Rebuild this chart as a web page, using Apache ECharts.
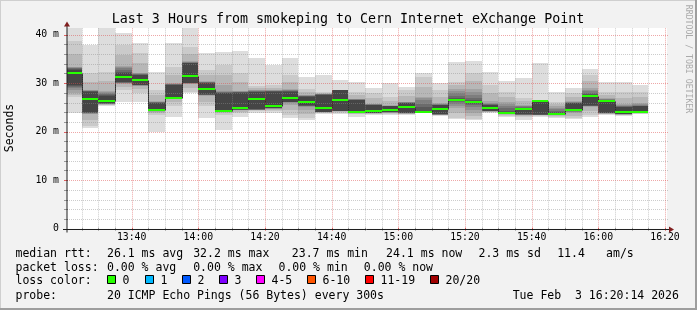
<!DOCTYPE html>
<html><head><meta charset="utf-8">
<script src="https://cdn.jsdelivr.net/npm/echarts@6/dist/echarts.min.js"></script>
<style>html,body{margin:0;padding:0;background:#f2f2f2}#c{width:697px;height:310px}</style>
</head><body><div id="c"></div>
<script>
// ---------------- data ----------------
const titleText = 'Last 3 Hours from smokeping to Cern Internet eXchange Point';
const yAxisName = 'Seconds';
const creditText = 'RRDTOOL / TOBI OETIKER';
// time in minutes after 13:00
const viewStart = 20.6, viewEnd = 200.6;
const stepMin = 5;
const colStart = [20,25,30,35,40,45,50,55,60,65,70,75,80,85,90,95,100,105,110,115,120,125,130,135,140,145,150,155,160,165,170,175,180,185,190];
const medians = [32.2,26.7,26.4,31.3,30.7,24.5,27.0,31.5,28.9,24.3,24.9,26.7,25.4,27.0,26.1,24.9,26.5,24.1,24.3,24.5,25.0,24.1,24.6,26.5,26.1,24.8,23.9,24.6,26.3,23.7,24.5,27.4,26.4,24.1,24.1];
// 20 sorted ping rtts (ms) per 5-minute step
const pings = [
 [23.9,27.2,27.6,28.0,28.6,29.0,29.2,29.4,29.6,32.1,32.3,32.8,33.0,33.1,33.2,33.3,33.4,36.0,38.6,41.3],
 [20.7,21.2,22.5,23.6,23.7,23.8,23.85,23.9,24.0,26.6,26.8,28.2,28.3,28.35,28.4,28.5,28.6,30.3,32.1,37.9],
 [25.3,25.5,25.6,25.7,25.75,25.8,25.8,25.85,25.9,26.3,26.5,27.3,27.5,27.7,28.0,28.2,28.4,30.4,32.4,41.5],
 [26.2,28.6,29.3,29.9,30.0,30.05,30.1,30.15,30.2,31.2,31.4,32.0,32.4,32.8,33.1,33.4,33.6,35.8,37.9,40.3],
 [26.2,27.9,28.8,29.4,29.5,29.55,29.6,29.65,29.7,30.6,30.8,31.6,31.7,31.8,31.9,32.0,32.2,34.2,36.2,38.2],
 [20.0,23.4,23.8,24.1,24.2,24.25,24.3,24.35,24.4,24.45,24.55,25.9,26.0,26.05,26.1,26.2,26.3,27.5,28.6,32.4],
 [23.1,25.2,26.1,26.7,26.8,26.85,26.9,26.92,26.95,26.98,27.02,29.6,29.7,29.75,29.8,29.9,30.0,31.7,33.4,38.2],
 [28.0,28.2,29.0,29.8,29.9,29.95,30.0,30.05,30.1,31.4,31.6,34.1,34.2,34.25,34.3,34.4,34.5,36.0,37.5,41.5],
 [22.8,25.2,26.2,27.4,27.5,27.55,27.6,27.65,27.7,28.8,29.0,30.0,30.1,30.15,30.2,30.3,30.5,31.6,32.7,36.2],
 [20.4,23.4,23.8,24.0,24.05,24.1,24.12,24.15,24.2,24.25,24.35,27.9,28.0,28.1,28.2,28.3,29.6,31.7,33.8,36.5],
 [23.1,23.8,24.1,24.4,24.45,24.5,24.52,24.55,24.6,24.85,24.95,28.0,28.1,28.15,28.2,28.3,28.4,30.2,32.1,36.6],
 [23.8,24.2,24.4,24.45,24.5,24.52,24.55,24.58,24.6,26.6,26.8,28.2,28.25,28.3,28.4,28.5,28.6,29.0,29.4,35.1],
 [23.8,24.2,24.5,24.7,24.75,24.8,24.82,24.85,24.9,25.3,25.5,28.2,28.3,28.35,28.4,28.5,28.6,29.1,29.6,33.8],
 [22.8,23.5,24.5,25.5,26.0,26.05,26.1,26.15,26.2,26.9,27.1,28.2,28.3,28.4,28.5,28.6,28.8,30.2,31.7,35.1],
 [22.4,22.8,23.6,24.4,25.0,25.2,25.3,25.4,25.5,26.0,26.2,27.2,27.3,27.35,27.4,27.5,27.6,28.2,28.9,31.3],
 [23.6,23.8,23.95,24.0,24.02,24.05,24.07,24.08,24.1,24.8,25.0,27.6,27.65,27.7,27.75,27.8,27.85,28.0,28.2,31.7],
 [23.6,23.9,24.1,24.2,24.22,24.25,24.27,24.28,24.3,26.4,26.6,28.5,28.5,28.52,28.54,28.56,28.58,28.6,28.6,30.7],
 [23.1,23.6,23.75,23.8,23.82,23.84,23.86,23.88,23.9,24.0,24.2,26.5,26.55,26.6,26.65,26.7,26.8,27.5,28.2,30.3],
 [23.4,23.6,23.7,23.8,23.82,23.84,23.86,23.88,23.9,24.25,24.35,25.5,25.55,25.6,25.65,25.7,25.8,26.9,27.9,29.0],
 [23.5,23.7,23.8,23.9,23.95,24.0,24.03,24.06,24.1,24.45,24.55,25.2,25.25,25.3,25.35,25.4,25.5,26.4,27.2,30.0],
 [23.4,23.6,23.7,23.75,23.78,23.8,23.82,23.85,23.9,24.95,25.05,25.9,25.95,26.0,26.05,26.1,26.2,27.4,28.6,29.3],
 [23.8,23.85,23.9,23.95,23.97,23.98,24.0,24.02,24.05,24.08,24.12,24.3,25.0,25.8,26.5,27.0,27.2,29.3,31.3,32.2],
 [23.2,23.35,23.4,23.45,23.5,23.52,23.55,23.58,23.6,24.55,24.65,25.5,25.55,25.6,25.7,25.8,25.9,27.2,28.6,30.1],
 [22.6,22.8,23.8,24.8,25.4,25.8,26.1,26.3,26.4,26.45,26.55,26.7,27.0,27.4,27.9,28.4,28.8,29.6,30.3,34.4],
 [22.4,22.6,23.2,23.8,24.4,25.0,25.5,25.8,25.95,26.05,26.15,26.3,26.6,27.0,27.5,28.1,28.8,30.4,32.0,34.6],
 [23.8,24.0,24.1,24.15,24.2,24.22,24.25,24.28,24.3,24.75,24.85,25.5,25.6,25.7,25.8,26.0,26.4,28.0,29.6,32.4],
 [23.1,23.3,23.5,23.7,23.75,23.8,23.82,23.85,23.87,23.88,23.92,24.0,24.3,24.8,25.3,25.8,26.2,27.2,28.2,30.5],
 [22.4,23.0,23.3,23.4,23.45,23.5,23.52,23.55,23.6,24.55,24.65,24.8,24.9,25.0,25.2,25.4,25.6,26.3,26.9,31.0],
 [23.1,23.3,23.4,23.42,23.45,23.48,23.5,23.52,23.55,26.25,26.35,26.4,26.42,26.44,26.46,26.48,26.5,26.5,26.5,34.2],
 [22.8,23.0,23.2,23.4,23.5,23.55,23.6,23.62,23.65,23.68,23.72,23.8,24.0,24.3,24.6,24.9,25.2,25.7,26.2,28.2],
 [22.6,22.8,23.3,23.8,24.0,24.1,24.2,24.3,24.4,24.45,24.55,25.9,25.95,26.0,26.1,26.2,26.3,27.1,27.9,29.0],
 [23.1,23.4,24.2,25.0,25.2,25.3,25.35,25.4,25.5,27.35,27.45,27.6,27.8,28.0,28.3,28.6,29.0,30.4,31.7,32.9],
 [23.4,23.6,23.7,23.75,23.78,23.8,23.82,23.85,23.9,26.35,26.45,26.5,26.55,26.6,26.7,26.8,26.9,27.5,28.2,30.3],
 [23.3,23.45,23.5,23.52,23.55,23.58,23.6,23.62,23.65,24.05,24.15,25.0,25.1,25.2,25.3,25.5,25.8,27.0,28.2,30.3],
 [23.6,23.75,23.8,23.85,23.87,23.88,23.89,23.9,23.9,24.05,24.15,25.2,25.3,25.4,25.5,25.7,26.0,27.1,28.2,29.6]
];
const xMajorTicks = [40,60,80,100,120,140,160,180,200];
const xTickLabels = ['13:40','14:00','14:20','14:40','15:00','15:20','15:40','16:00','16:20'];
const xMinorTicks = [25,30,35,45,50,55,65,70,75,85,90,95,105,110,115,125,130,135,145,150,155,165,170,175,185,190,195];
const yMax = 41.4;
const yMajorTicks = [10,20,30,40];
const yLabelValues = [0,10,20,30,40];
const yTickLabels = ['0','10 m','20 m','30 m','40 m'];
const yMinorTicks = [2,4,6,8,12,14,16,18,22,24,26,28,32,34,36,38];
const rttLabel = 'median rtt:';
const rttStats = ['26.1 ms avg','32.2 ms max','23.7 ms min','24.1 ms now','2.3 ms sd','11.4','am/s'];
const lossLabel = 'packet loss:';
const lossStats = ['0.00 % avg','0.00 % max','0.00 % min','0.00 % now'];
const lossColorLabel = 'loss color:';
const lossNames = ['0','1','2','3','4-5','6-10','11-19','20/20'];
const lossColors = ['#26ff00','#00b8ff','#0059ff','#7e00ff','#ff00ff','#ff5500','#ff0000','#a00000'];
const probeLabel = 'probe:';
const probeText = '20 ICMP Echo Pings (56 Bytes) every 300s';
const dateText = 'Tue Feb  3 16:20:14 2026';

// ---------------- style / layout ----------------
const FONT = "'DejaVu Sans Mono', monospace";
const smokeGrays = ['#dddddd','#cacaca','#b7b7b7','#a4a4a4','#919191','#7e7e7e','#6b6b6b','#585858','#454545'];
const GRID_MINOR = 'rgba(143,143,143,0.45)';
const GRID_MAJOR = 'rgba(222,79,79,0.5)';
const TICK_MINOR = 'rgba(143,143,143,0.9)';
const TICK_MAJOR = 'rgba(222,79,79,0.9)';
const ARROW = '#801f1f';
const AXIS = '#1f1f1f';
const G = {left: 67, right: 30, top: 27.9, bottom: 81.3};

const chart = echarts.init(document.getElementById('c'), null, {renderer: 'canvas'});

const smokeData = colStart.map((s, k) => [s, s + stepMin].concat(pings[k]));
const medData = colStart.map((s, k) => [s, s + stepMin, medians[k], k > 0 ? medians[k - 1] : medians[k]]);
const gridData = []
  .concat(yMinorTicks.map(v => [v, 0, 0]))
  .concat(yMajorTicks.map(v => [v, 0, 1]))
  .concat(xMinorTicks.map(v => [v, 1, 0]))
  .concat(xMajorTicks.map(v => [v, 1, 1]));

function renderSmoke(params, api) {
  const s = api.value(0), e = api.value(1);
  const xa = Math.round(api.coord([s, 0])[0]);
  const xb = Math.round(api.coord([e, 0])[0]);
  const children = [];
  for (let i = 0; i < 9; i++) {
    const lo = api.value(2 + i), hi = api.value(2 + 19 - i);
    const yt = Math.round(api.coord([s, hi])[1]);
    const yb = Math.round(api.coord([s, lo])[1]);
    children.push({type: 'rect', shape: {x: xa, y: yt, width: xb - xa, height: Math.max(1, yb - yt)},
      style: {fill: smokeGrays[i]}});
  }
  return {type: 'group', children};
}
function renderConnector(params, api) {
  const s = api.value(0);
  const xa = Math.round(api.coord([s, 0])[0]) + 0.5;
  const y1 = Math.round(api.coord([s, api.value(2)])[1]) + 0.5;
  const y0 = Math.round(api.coord([s, api.value(3)])[1]) + 0.5;
  return {type: 'line', shape: {x1: xa, y1: y0, x2: xa, y2: y1}, style: {stroke: '#202020', lineWidth: 1}};
}
function renderMedian(params, api) {
  const s = api.value(0), e = api.value(1);
  const xa = Math.round(api.coord([s, 0])[0]);
  const xb = Math.round(api.coord([e, 0])[0]);
  const y = Math.round(api.coord([s, api.value(2)])[1]);
  return {type: 'rect', shape: {x: xa, y: y - 1, width: xb - xa, height: 2}, style: {fill: lossColors[0]}};
}
function renderGrid(params, api) {
  const v = api.value(0), orient = api.value(1), major = api.value(2);
  const cs = params.coordSys;
  const col = major ? GRID_MAJOR : GRID_MINOR;
  const tcol = major ? TICK_MAJOR : TICK_MINOR;
  if (orient === 0) {
    const y = Math.round(api.coord([viewStart, v])[1]) + 0.5;
    return {type: 'group', children: [
      {type: 'line', shape: {x1: cs.x, y1: y, x2: cs.x + cs.width + 2, y2: y}, style: {stroke: col, lineWidth: 1, lineDash: [1, 1]}},
      {type: 'line', shape: {x1: cs.x - 3, y1: y, x2: cs.x + 1, y2: y}, style: {stroke: tcol, lineWidth: 1}}
    ]};
  } else {
    const x = Math.round(api.coord([v, 0])[0]) + 0.5;
    const yb = cs.y + cs.height;
    return {type: 'group', children: [
      {type: 'line', shape: {x1: x, y1: yb, x2: x, y2: cs.y}, style: {stroke: col, lineWidth: 1, lineDash: [1, 1]}},
      {type: 'line', shape: {x1: x, y1: yb - 1, x2: x, y2: yb + 2}, style: {stroke: tcol, lineWidth: 1}}
    ]};
  }
}

const option = {
  animation: false,
  backgroundColor: '#f2f2f2',
  grid: {left: G.left, right: G.right, top: G.top, bottom: G.bottom, show: true, backgroundColor: '#ffffff', borderWidth: 0},
  xAxis: {
    type: 'value', min: viewStart, max: viewEnd,
    axisLine: {show: false}, axisTick: {show: false}, splitLine: {show: false},
    axisLabel: {customValues: xMajorTicks, formatter: v => xTickLabels[xMajorTicks.indexOf(v)] || '',
      fontFamily: FONT, fontSize: 9.8, color: '#000', margin: 4}
  },
  yAxis: {
    type: 'value', min: 0, max: yMax,
    axisLine: {show: false}, axisTick: {show: false}, splitLine: {show: false},
    axisLabel: {customValues: yLabelValues, formatter: v => yTickLabels[yLabelValues.indexOf(v)] || '',
      fontFamily: FONT, fontSize: 9.8, color: '#000', margin: 8}
  },
  series: [
    {type: 'custom', name: 'smoke', data: smokeData, renderItem: renderSmoke, clip: true, silent: true, z: 1,
      encode: {x: [0, 1], y: [2, 21]}},
    {type: 'custom', name: 'connector', data: medData, renderItem: renderConnector, clip: true, silent: true, z: 2,
      encode: {x: [0, 1], y: [2, 3]}},
    {type: 'custom', name: 'grid', data: gridData, renderItem: renderGrid, clip: false, silent: true, z: 3,
      encode: {x: 0, y: 0}},
    {type: 'custom', name: 'median', data: medData, renderItem: renderMedian, clip: true, silent: true, z: 4,
      encode: {x: [0, 1], y: 2}}
  ]
};
chart.setOption(option);

// decorations: axes with arrows, frame, texts
const p0 = chart.convertToPixel({gridIndex: 0}, [viewStart, 0]);
const p1 = chart.convertToPixel({gridIndex: 0}, [viewEnd, yMax]);
const ax = Math.round(p0[0]);        // y-axis x
const ay = Math.round(p0[1]) + 0.5;  // x-axis y
const W = 697, H = 310;
const gfx = [];
// frame shading
gfx.push({type: 'rect', shape: {x: 0, y: 0, width: W, height: 1}, style: {fill: '#cfcfcf'}, z: 10});
gfx.push({type: 'rect', shape: {x: 0, y: 0, width: 1, height: H}, style: {fill: '#cfcfcf'}, z: 10});
gfx.push({type: 'rect', shape: {x: 0, y: H - 2, width: W, height: 2}, style: {fill: '#9e9e9e'}, z: 10});
gfx.push({type: 'rect', shape: {x: W - 2, y: 0, width: 2, height: H}, style: {fill: '#9e9e9e'}, z: 10});
// axes
gfx.push({type: 'line', shape: {x1: ax - 4, y1: ay, x2: p1[0] + 3, y2: ay}, style: {stroke: AXIS, lineWidth: 1}, z: 20});
gfx.push({type: 'line', shape: {x1: ax, y1: ay + 3, x2: ax, y2: p1[1] - 2}, style: {stroke: AXIS, lineWidth: 1}, z: 20});
gfx.push({type: 'polygon', shape: {points: [[p1[0] + 2, ay - 3], [p1[0] + 7, ay], [p1[0] + 2, ay + 3]]}, style: {fill: ARROW}, z: 21});
gfx.push({type: 'polygon', shape: {points: [[ax - 3, p1[1] - 1.5], [ax, p1[1] - 6.5], [ax + 3, p1[1] - 1.5]]}, style: {fill: ARROW}, z: 21});
// title and names
gfx.push({type: 'text', x: 348, y: 19.5, style: {text: titleText, font: '13.3px ' + FONT, fill: '#000', align: 'center', verticalAlign: 'middle'}, z: 20});
gfx.push({type: 'text', x: 10.5, y: 128, rotation: Math.PI / 2, style: {text: yAxisName, font: '11.5px ' + FONT, fill: '#000', align: 'center', verticalAlign: 'middle'}, z: 20});
gfx.push({type: 'text', x: 688.5, y: 59, rotation: -Math.PI / 2, style: {text: creditText, font: '8.2px ' + FONT, fill: '#aaaaaa', align: 'center', verticalAlign: 'middle'}, z: 20});
// legend lines
const LF = '11.5px ' + FONT;
const rowY = [254.5, 268.3, 281.5, 296];
function txt(s, x, y) { gfx.push({type: 'text', x: x, y: y, style: {text: s, font: LF, fill: '#000', align: 'left', verticalAlign: 'middle'}, z: 20}); }
txt(rttLabel, 15.5, rowY[0]);
const rttX = [107, 193.2, 291.8, 386.1, 478.5, 557.2, 606.1];
rttStats.forEach((s, i) => txt(s, rttX[i], rowY[0]));
txt(lossLabel, 15.5, rowY[1]);
const lossX = [107, 193.2, 278.5, 363.8];
lossStats.forEach((s, i) => txt(s, lossX[i], rowY[1]));
txt(lossColorLabel, 15.5, rowY[2]);
const boxX = [107.5, 145.5, 182.5, 219.5, 256.5, 307.5, 365.5, 430.5];
lossNames.forEach((s, i) => {
  gfx.push({type: 'rect', shape: {x: boxX[i], y: 275.5, width: 8, height: 8}, style: {fill: lossColors[i], stroke: '#000', lineWidth: 1}, z: 20});
  txt(s, boxX[i] + 15, rowY[2]);
});
txt(probeLabel, 15.5, rowY[3]);
txt(probeText, 107, rowY[3]);
txt(dateText, 512.7, rowY[3]);
chart.setOption({graphic: gfx});
</script></body></html>
